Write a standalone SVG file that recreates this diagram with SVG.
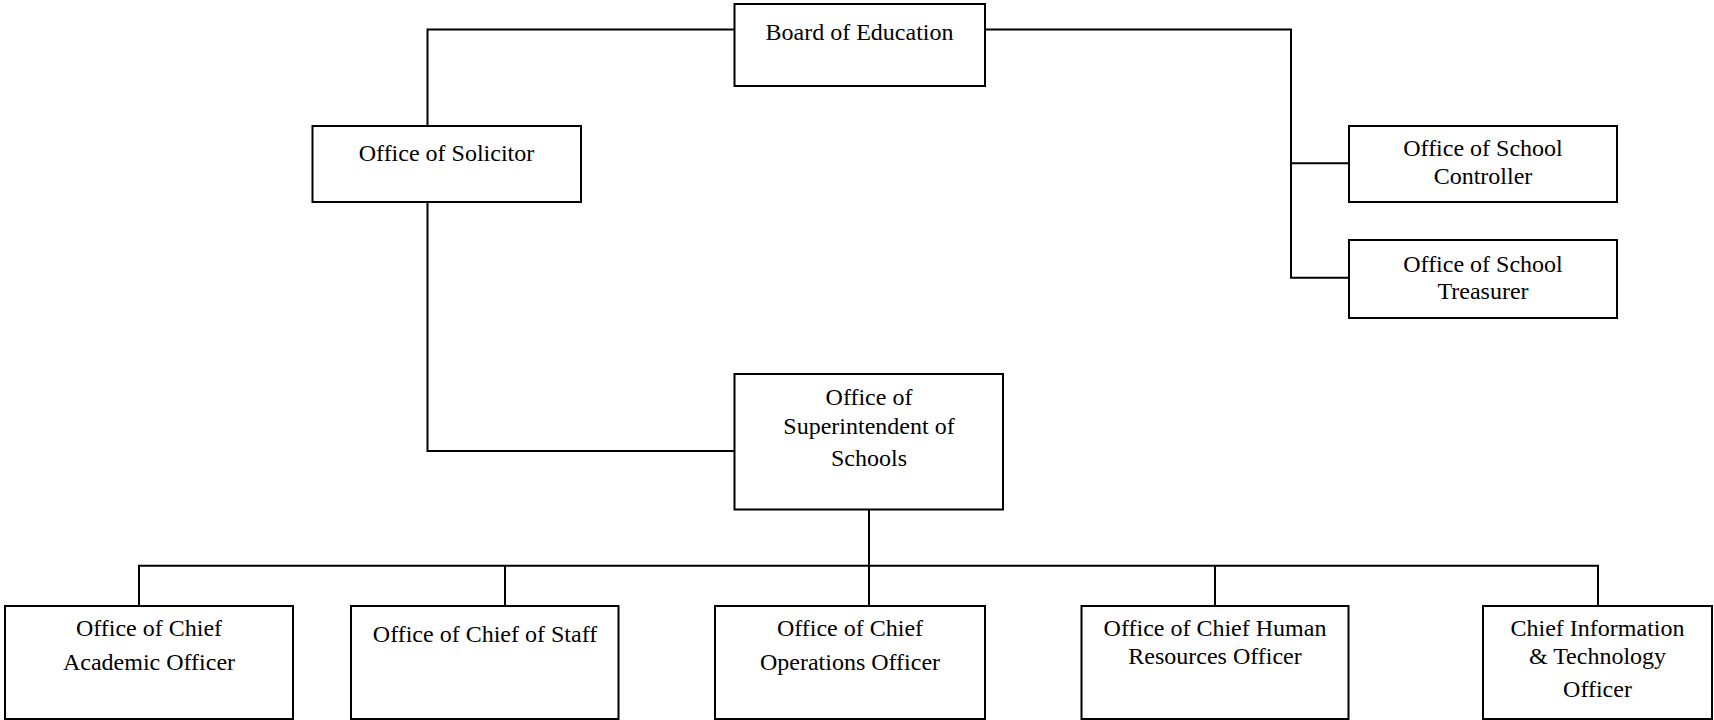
<svg xmlns="http://www.w3.org/2000/svg" width="1714" height="720" viewBox="0 0 1714 720">
<style>
.box{fill:#fff;stroke:#000;stroke-width:2}
.conn{fill:none;stroke:#000;stroke-width:2}
text{font-family:"Liberation Serif","Times New Roman",serif;font-size:24px;fill:#000;text-anchor:middle}
</style>
<rect width="1714" height="720" fill="#fff"/>
<g id="connectors" class="conn">
<path d="M734.5 29.5H427.5V126"/>
<path d="M427.5 202V451H734.5"/>
<path d="M985 29.5H1291V277.7H1349"/>
<path d="M1291 163.3H1349"/>
<path d="M869 509.5V565.7"/>
<path d="M139 606V565.7H1598V606"/>
<path d="M505 565.7V606"/>
<path d="M869 565.7V606"/>
<path d="M1215 565.7V606"/>
</g>
<g id="board"><rect class="box" x="734.5" y="4" width="250.5" height="82"/><text x="859.5" y="40">Board of Education</text></g>
<g id="solicitor"><rect class="box" x="312.5" y="126" width="268.5" height="76"/><text x="446.5" y="161">Office of Solicitor</text></g>
<g id="controller"><rect class="box" x="1349" y="126" width="268" height="76"/><text x="1483" y="156">Office of School</text><text x="1483" y="184">Controller</text></g>
<g id="treasurer"><rect class="box" x="1349" y="240" width="268" height="78"/><text x="1483" y="271.5">Office of School</text><text x="1483" y="298.5">Treasurer</text></g>
<g id="superintendent"><rect class="box" x="734.5" y="374" width="268.5" height="135.5"/><text x="869" y="405">Office of</text><text x="869" y="434">Superintendent of</text><text x="869" y="466">Schools</text></g>
<g id="academic"><rect class="box" x="5" y="606" width="288" height="113"/><text x="149" y="636">Office of Chief</text><text x="149" y="670">Academic Officer</text></g>
<g id="staff"><rect class="box" x="351" y="606" width="267.5" height="113"/><text x="485" y="642">Office of Chief of Staff</text></g>
<g id="operations"><rect class="box" x="715" y="606" width="270" height="113"/><text x="850" y="636">Office of Chief</text><text x="850" y="670">Operations Officer</text></g>
<g id="hr"><rect class="box" x="1081.5" y="606" width="267" height="113"/><text x="1215" y="636">Office of Chief Human</text><text x="1215" y="664">Resources Officer</text></g>
<g id="cito"><rect class="box" x="1483" y="606" width="229" height="113"/><text x="1597.5" y="636">Chief Information</text><text x="1597.5" y="664">&amp; Technology</text><text x="1597.5" y="697">Officer</text></g>
</svg>
